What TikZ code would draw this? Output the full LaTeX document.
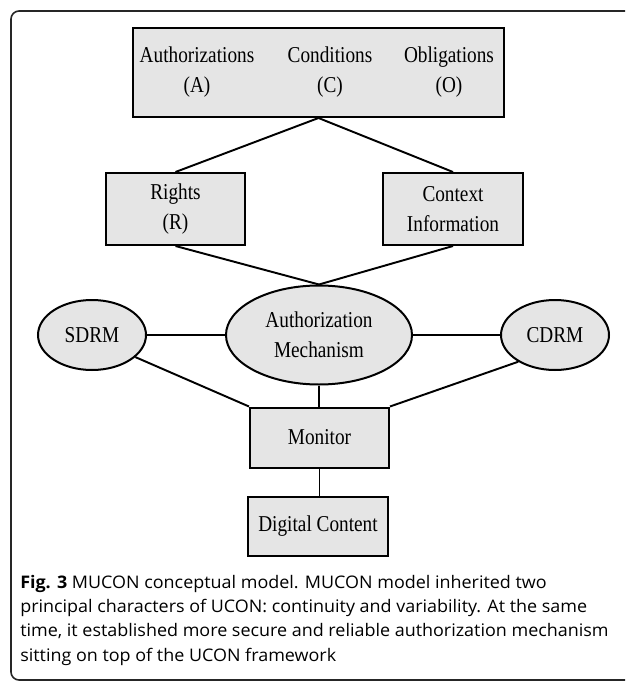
\documentclass[tikz,border=0pt]{standalone}
\usepackage{fontspec}
\setmainfont{Liberation Serif}[FakeStretch=0.85]
\newfontfamily\capfont{Open Sans}[FakeStretch=1.035]
\usetikzlibrary{shapes.geometric}

\tikzset{
  box/.style={draw, line width=1.5pt, fill=black!10, inner sep=0pt,
    align=center, font=\fontsize{17}{22.5}\selectfont},
  oval/.style={box, ellipse},
  word/.style={inner sep=0pt, align=center, font=\fontsize{17}{22.5}\selectfont},
  link/.style={line width=1.45pt},
  capline/.style={anchor=base west, inner sep=0pt, font=\capfont\fontsize{13}{16}\selectfont}
}

\begin{document}
\begin{tikzpicture}[x=0.75pt,y=-0.75pt]
        \useasboundingbox (0,0) rectangle (625,685);
        \begin{scope}
          \clip (0,0) rectangle (625,685);
          \draw[black!85,line width=1.2pt,rounded corners=6pt] (11,11) rectangle (660,680);
        \end{scope}

        % boxes
        \node[box,minimum width=278.25pt,minimum height=66.75pt] (ucon) at (318.5,72.5) {};
        \node[word] (authz) at (197,72) {Authorizations\\(A)};
        \node[word] (cond) at (330,72) {Conditions\\(C)};
        \node[word] (oblig) at (449,72) {Obligations\\(O)};

        \node[box,minimum width=104.25pt,minimum height=54pt] (rights) at (175.5,209) {Rights\\(R)};
        \node[box,minimum width=105pt,minimum height=54pt] (context) at (453,209) {Context\\Information};

        \node[oval,minimum width=139.5pt,minimum height=74.25pt] (mech) at (319,335) {Authorization\\Mechanism};
        \node[oval,minimum width=81pt,minimum height=52.5pt] (sdrm) at (92,335) {SDRM};
        \node[oval,minimum width=81pt,minimum height=52.5pt] (cdrm) at (555,335) {CDRM};

        \node[box,minimum width=104.25pt,minimum height=45pt] (monitor) at (319.5,437.5) {Monitor};
        \node[box,minimum width=105pt,minimum height=44.25pt] (content) at (318,526.5) {Digital Content};

        % connectors
        \draw[link] (ucon.south) -- (rights.north);
        \draw[link] (ucon.south) -- (context.north);
        \draw[link] (rights.south) -- (mech.north);
        \draw[link] (context.south) -- (mech.north);
        \draw[link] (sdrm.east) -- (mech.west);
        \draw[link] (mech.east) -- (cdrm.west);
        \draw[link] (sdrm.-27) -- (monitor.north west);
        \draw[link] (cdrm.216) -- (monitor.north east);
        \draw[link] (mech.south) -- (mech.south |- monitor.north);
        \draw[link] (monitor.south) -- (monitor.south |- content.north);

        % caption
        \node[capline] (cap1) at (20,588) {\textbf{Fig. 3} MUCON conceptual model. MUCON model inherited two};
        \node[capline] (cap2) at (20,612) {principal characters of UCON: continuity and variability. At the same};
        \node[capline] (cap3) at (20,636.5) {time, it established more secure and reliable authorization mechanism};
        \node[capline] (cap4) at (20,661) {sitting on top of the UCON framework};
    \end{tikzpicture}
\end{document}
